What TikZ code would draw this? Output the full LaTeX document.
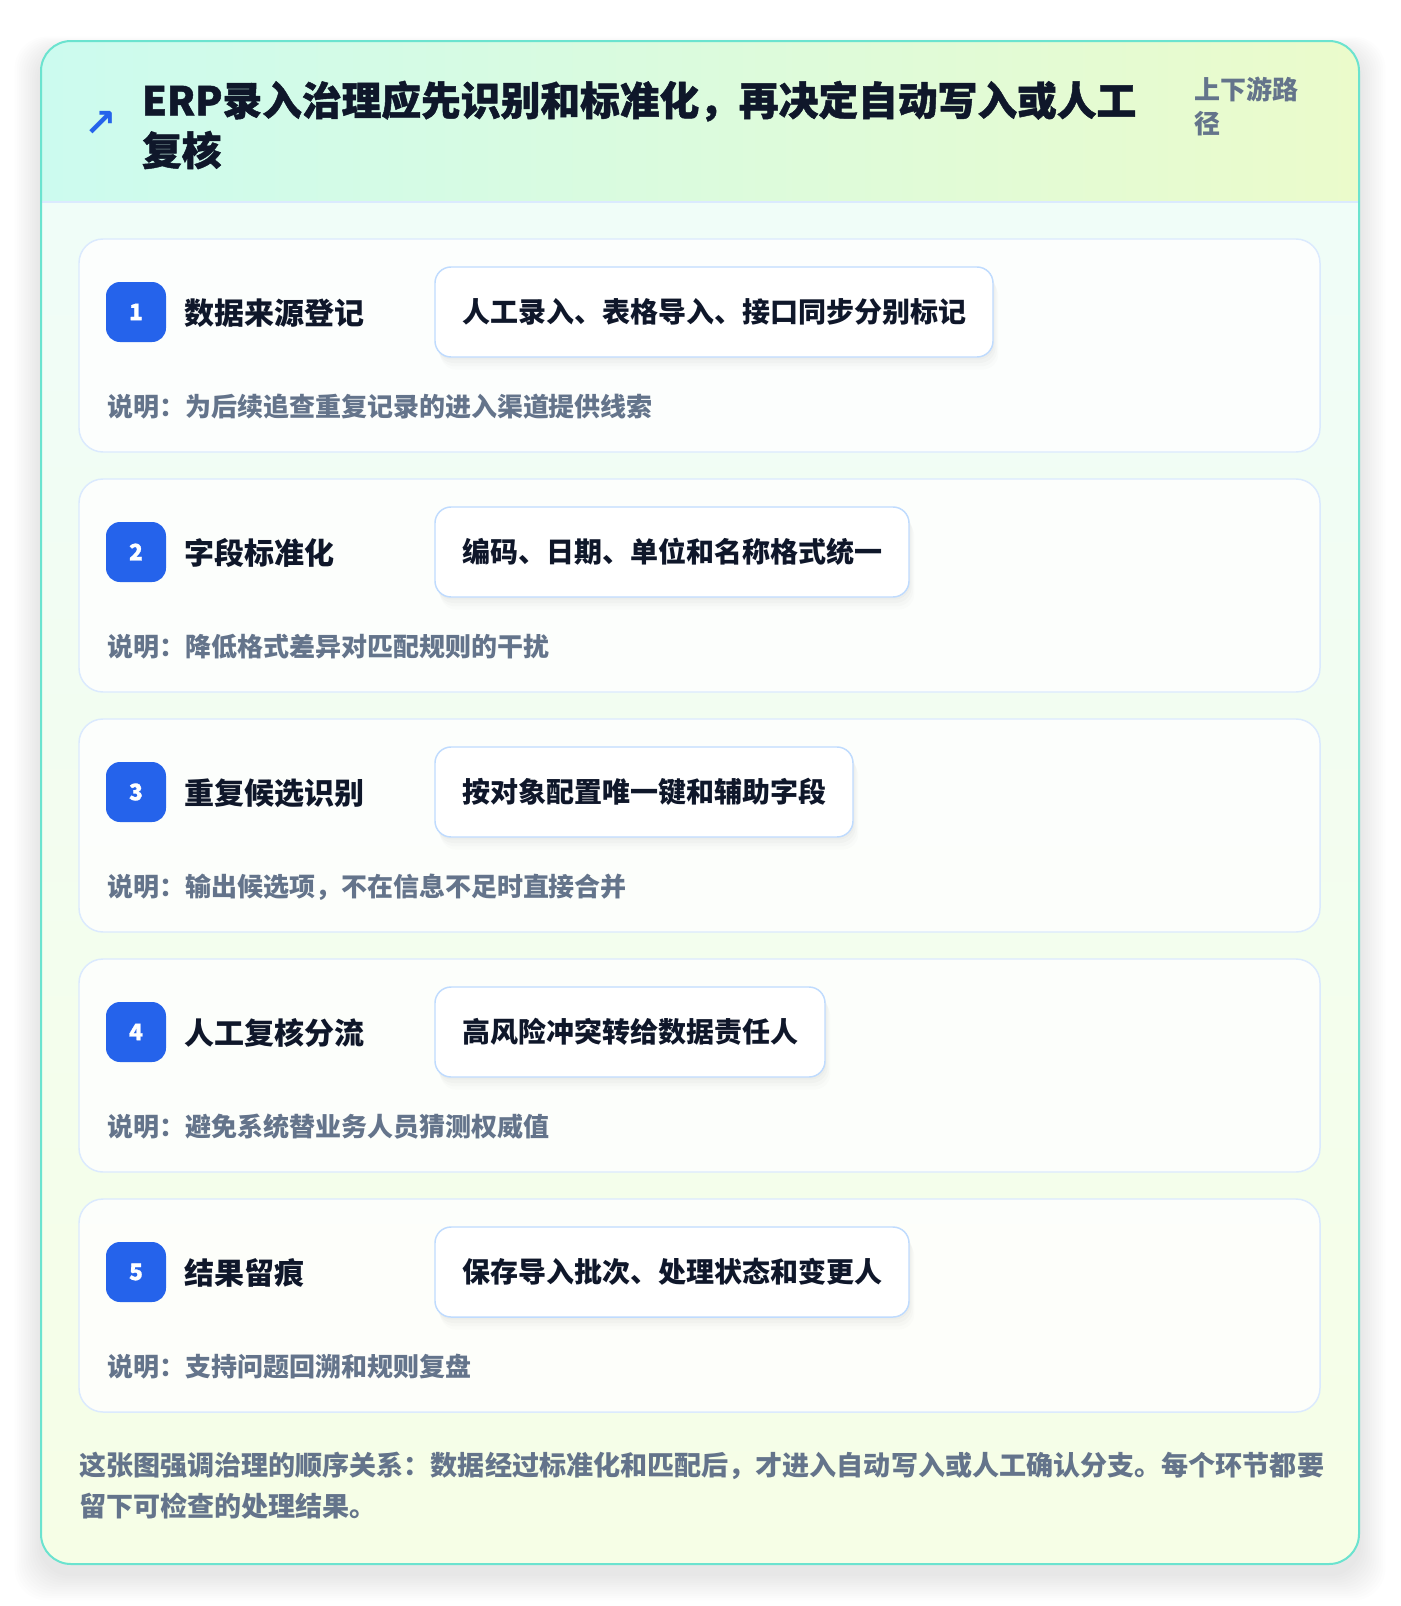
\documentclass[tikz,border=0pt]{standalone}
\usepackage{fontspec}
\setmainfont{Noto Sans CJK SC}
\newfontfamily\heavyfont{Noto Sans CJK SC}[BoldFeatures={FakeBold=1.2}]
\newfontfamily\symfont{DejaVu Sans}
\usetikzlibrary{shadows.blur}

\definecolor{frameline}{HTML}{6BE3CF}
\definecolor{headleft}{HTML}{CCFBEF}
\definecolor{headright}{HTML}{EBFBCB}
\definecolor{bodytop}{HTML}{F0FDF8}
\definecolor{bodybottom}{HTML}{F6FEE6}
\definecolor{cardline}{HTML}{DBEAFE}
\definecolor{pillline}{HTML}{BFDBFE}
\definecolor{badgeblue}{HTML}{2563EB}
\definecolor{inkdark}{HTML}{0F172A}
\definecolor{inkgray}{HTML}{64748B}

\begin{document}
\begin{tikzpicture}[x=0.75pt, y=-0.75pt,
  every node/.style = {inner sep=0pt, outer sep=0pt},
  stepcard/.style = {draw=cardline, line width=1.1pt, fill=white, fill opacity=0.8,
    rounded corners=18pt, minimum width=930.75pt, minimum height=159.75pt, anchor=north west},
  badge/.style = {fill=badgeblue, text=white, rounded corners=10.5pt, minimum size=45pt,
    font=\heavyfont\bfseries\fontsize{17pt}{18pt}\selectfont},
  steptitle/.style = {anchor=west, text=inkdark, font=\bfseries\fontsize{22.5pt}{26pt}\selectfont},
  softshade/.style = {preaction={fill=black, fill opacity=#1, draw=none}},
  pill/.style = {anchor=west, draw=pillline, line width=1.1pt, fill=white, rounded corners=12pt,
    minimum height=67.5pt, inner xsep=20.25pt, text=inkdark,
    font=\bfseries\fontsize{21pt}{24pt}\selectfont,
    preaction={fill=black, fill opacity=0.018, draw=none, transform canvas={xshift=1pt, yshift=-2pt}},
    preaction={fill=black, fill opacity=0.018, draw=none, transform canvas={xshift=2pt, yshift=-4.5pt}},
    preaction={fill=black, fill opacity=0.015, draw=none, transform canvas={xshift=3pt, yshift=-7pt}},
    preaction={fill=black, fill opacity=0.012, draw=none, transform canvas={xshift=4pt, yshift=-9.5pt}}},
  note/.style = {anchor=west, text=inkgray, font=\bfseries\fontsize{19.5pt}{22pt}\selectfont}]

  \useasboundingbox[fill=white] (0,0) rectangle (1400,1606);

  % soft shadow under the frame
  \foreach \k in {1,...,12}
    \fill[black, fill opacity=0.006, rounded corners=24pt]
      (41-\k*2.2,41-\k*1.2+10) rectangle (1359+\k*2.2,1564+\k*2.2+10);

  % outer frame with header band
  \begin{scope}
    \clip[rounded corners=22.5pt] (41,41) rectangle (1359,1564);
    \shade[top color=bodytop, bottom color=bodybottom] (41,202) rectangle (1359,1564);
    \shade[left color=headleft, right color=headright] (41,41) rectangle (1359,202);
  \end{scope}
  \draw[cardline, line width=1.1pt] (41,202) -- (1359,202);
  \draw[frameline, line width=1.5pt, rounded corners=22.5pt] (41,41) rectangle (1359,1564);

  \node[text=badgeblue, font=\symfont\bfseries\fontsize{29pt}{29pt}\selectfont] (icon) at (101,124) {↗};
  \node[anchor=west, align=left, text=inkdark, font=\heavyfont\bfseries\fontsize{29.8pt}{37.5pt}\selectfont]
    (title) at (142,125) {ERP录入治理应先识别和标准化，再决定自动写入或人工\\复核};
  \node[anchor=west, align=left, text=inkgray, font=\bfseries\fontsize{19.5pt}{25.5pt}\selectfont]
    (tag) at (1194,106) {上下游路\\径};

  % five steps
  \foreach \i/\ttl/\txt/\expl in {
    1/数据来源登记/人工录入、表格导入、接口同步分别标记/说明：为后续追查重复记录的进入渠道提供线索,
    2/字段标准化/编码、日期、单位和名称格式统一/说明：降低格式差异对匹配规则的干扰,
    3/重复候选识别/按对象配置唯一键和辅助字段/说明：输出候选项，不在信息不足时直接合并,
    4/人工复核分流/高风险冲突转给数据责任人/说明：避免系统替业务人员猜测权威值,
    5/结果留痕/保存导入批次、处理状态和变更人/说明：支持问题回溯和规则复盘} {
    \pgfmathsetmacro{\cardy}{239+240*(\i-1)}
    \node[stepcard] (card\i) at (79,\cardy) {};
    \node[badge] (badge\i) at (136,\cardy+73) {\i};
    \node[steptitle] (title\i) at (184,\cardy+74) {\ttl};
    \node[pill] (pill\i) at (435,\cardy+73) {\txt};
    \node[note] (note\i) at (107,\cardy+168) {\expl};
  }

  \node[anchor=west, align=left, text=inkgray, font=\bfseries\fontsize{20.3pt}{30.75pt}\selectfont]
    (summary) at (79,1486) {这张图强调治理的顺序关系：数据经过标准化和匹配后，才进入自动写入或人工确认分支。每个环节都要\\留下可检查的处理结果。};
\end{tikzpicture}
\end{document}
